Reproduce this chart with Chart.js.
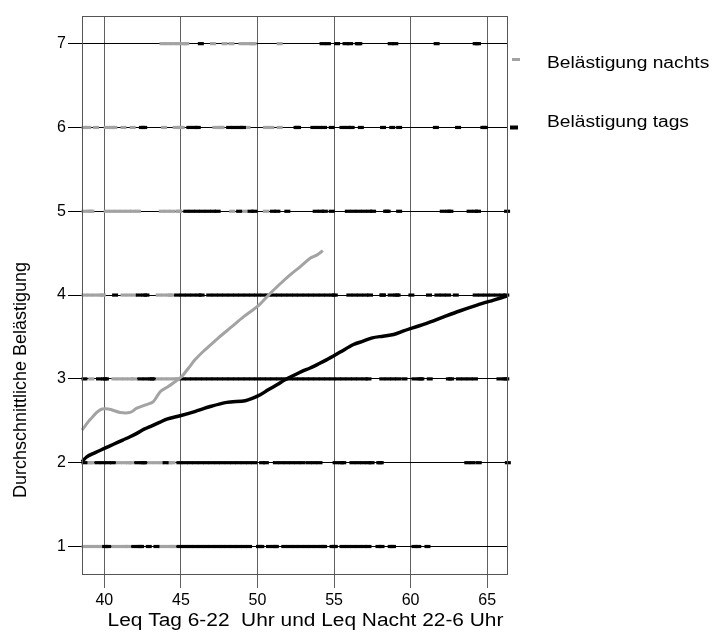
<!DOCTYPE html>
<html>
<head>
<meta charset="utf-8">
<script src="https://cdn.jsdelivr.net/npm/chart.js@4/dist/chart.umd.min.js"></script>
<style>
html,body{margin:0;padding:0;background:#fff;}
#wrap{position:relative;width:715px;height:633px;}
</style>
</head>
<body>
<div id="wrap"><canvas id="c" width="715" height="633"></canvas></div>
<script>
// ---- data ----
const xTicks = [40, 45, 50, 55, 60, 65];
const yTicks = [1, 2, 3, 4, 5, 6, 7];
const xTitle = "Leq Tag 6-22  Uhr und Leq Nacht 22-6 Uhr";
const yTitle = "Durchschnittliche Belästigung";
const seriesNames = ["Belästigung nachts", "Belästigung tags"];

// individual responses (x = Leq) per annoyance level, nachts (grey)
const nachts1 = [38.7,39.05,39.4,39.7,40.65,41.0,41.35,41.55,43.7,44.05,44.4,44.5];
const nachts2 = [39.05,39.15,40.95,41.3,41.6,41.75,43.0,43.35,43.7,44.25,44.45];
const nachts3 = [39.15,40.65,41.0,41.35,41.7,41.95,43.55,43.9,44.25,44.6,44.8];
const nachts4 = [38.7,39.05,39.4,39.75,39.9,41.25,41.6,41.95,43.55,43.9,44.25,44.35];
const nachts5 = [38.7,39.05,39.15,40.15,40.5,40.85,41.2,41.55,41.85,42.2,43.75,44.1,44.45,44.85,44.9,48.35,49.2,50.55];
const nachts6 = [38.7,38.95,39.45,40.15,40.5,40.65,41.25,41.85,43.9,44.65,44.95,45.05,47.25,47.6,47.65,49.35,50.55,50.9,51.45];
const nachts7 = [43.8,44.15,44.5,44.85,45.2,45.35,47.1,47.85,48.3,48.95,49.3,49.65,49.75,51.45];

// individual responses per annoyance level, tags (black)
const tags1 = [40.05,40.25,41.95,42.3,42.4,42.9,43.4,44.9,45.25,45.6,45.95,46.3,46.65,47.0,47.35,47.7,48.05,48.4,48.75,49.1,49.45,50.1,50.25,50.75,51.1,51.2,51.75,52.1,52.45,52.8,53.15,53.5,53.85,54.2,54.35,54.9,55.05,55.55,55.9,56.25,56.6,56.95,57.25,57.9,58.1,58.7,58.85,60.25,60.5,61.1];
const tags2 = [38.7,39.55,39.9,40.25,40.55,42.15,42.5,42.6,44.0,44.9,45.25,45.6,45.95,46.3,46.65,47.0,47.35,47.7,48.05,48.4,48.75,49.1,49.45,49.8,50.3,50.55,51.2,51.55,51.9,52.25,52.6,52.95,53.35,53.7,54.05,55.1,55.45,55.6,56.2,56.55,56.9,57.25,57.45,57.95,58.05,63.7,64.05,64.45,66.35];
const tags3 = [38.7,39.65,40.0,40.1,42.35,42.7,43.05,43.15,45.1,45.45,45.8,46.15,46.5,46.85,47.2,47.55,47.9,48.25,48.6,48.95,49.3,49.65,50.0,50.35,50.7,51.05,51.4,51.75,52.1,52.45,52.8,53.15,53.5,53.85,54.2,54.55,54.9,55.25,55.6,55.95,56.3,56.65,57.0,57.25,58.15,58.5,58.85,59.2,59.6,60.25,60.6,60.7,61.25,62.5,62.65,63.15,63.5,63.85,64.2,65.8,66.15,66.25];
const tags4 = [40.7,42.25,42.6,42.75,44.75,45.1,45.45,45.8,46.15,46.35,46.85,47.2,47.55,47.9,48.25,48.6,48.95,49.3,49.65,50.0,50.35,50.7,51.05,51.4,51.75,52.1,52.45,52.8,53.15,53.5,53.85,54.2,54.55,54.9,55.05,56.0,56.35,56.7,57.05,57.35,58.15,58.2,58.7,59.05,59.15,60.05,61.2,61.75,62.1,62.45,62.95,64.25,64.6,64.95,65.3,65.65,66.0,66.25];
const tags5 = [45.35,45.7,46.05,46.4,46.75,47.1,47.4,48.8,49.55,49.8,51.0,51.3,51.95,53.8,54.15,54.4,54.85,55.9,56.25,56.6,56.95,57.3,57.55,58.4,58.5,59.25,62.1,62.45,62.6,63.85,64.2,64.4,66.3];
const tags6 = [42.45,42.6,45.55,45.9,46.1,48.15,48.5,48.85,49.05,52.55,52.65,53.65,54.0,54.35,54.85,55.55,55.9,56.15,56.75,58.2,58.8,59.25,61.65,63.1,64.75,64.85];
const tags7 = [46.3,54.25,54.6,55.2,55.75,56.05,56.55,56.65,58.7,59.0,61.7,64.25,64.4];

// smoothed mean annoyance curves
const nachtsLineX = [38.54,39.1,39.72,40.26,41.03,41.68,42.12,42.7,43.2,43.66,44.1,44.5,45.06,45.5,45.93,46.47,46.9,47.45,48.3,49.08,49.6,50.1,50.72,51.4,52.13,52.8,53.44,53.9,54.27];
const nachtsLineY = [2.39,2.52,2.63,2.64,2.60,2.60,2.65,2.69,2.73,2.85,2.90,2.95,3.03,3.13,3.23,3.33,3.40,3.49,3.62,3.74,3.81,3.88,4.00,4.12,4.24,4.34,4.44,4.48,4.53];
const tagsLineX = [38.54,38.85,39.4,40.0,40.6,41.2,41.68,42.12,42.6,43.1,43.6,44.08,44.95,45.9,46.91,48.0,49.2,49.7,50.18,50.7,51.27,51.8,52.35,52.9,53.44,54.0,54.53,55.4,56.27,56.9,57.5,58.2,58.89,59.5,59.98,61.0,62.16,63.2,64.34,65.42,66.32];
const tagsLineY = [2.01,2.07,2.12,2.17,2.22,2.27,2.31,2.35,2.40,2.44,2.48,2.52,2.56,2.61,2.67,2.72,2.74,2.77,2.81,2.87,2.93,2.99,3.04,3.09,3.13,3.18,3.23,3.32,3.41,3.45,3.49,3.51,3.53,3.57,3.60,3.66,3.74,3.81,3.88,3.94,3.99];

// ---- build ----
const GREY = '#a3a3a3';
const BLACK = '#000000';
const FONT = '"Liberation Sans", Arial, sans-serif';

function levelPoints(lists) {
  const out = [];
  lists.forEach((arr, i) => arr.forEach(x => out.push({x: x, y: yTicks[i]})));
  return out;
}
function linePoints(xs, ys) { return xs.map((x, i) => ({x: x, y: ys[i]})); }

const nachtsPts = levelPoints([nachts1,nachts2,nachts3,nachts4,nachts5,nachts6,nachts7]);
const tagsPts = levelPoints([tags1,tags2,tags3,tags4,tags5,tags6,tags7]);

function wideText(ctx, text, x, y, sx) {
  ctx.save();
  ctx.translate(x, y);
  ctx.scale(sx, 1);
  ctx.fillText(text, 0, 0);
  ctx.restore();
}

const decor = {
  id: 'decor',
  afterDraw(chart) {
    const ctx = chart.ctx, a = chart.chartArea;
    ctx.save();
    ctx.strokeStyle = '#555';
    ctx.lineWidth = 1;
    ctx.strokeRect(a.left + 0.5, a.top + 0.5, a.right - a.left - 1, a.bottom - a.top - 1);
    ctx.fillStyle = '#000';
    ctx.font = '18px ' + FONT;
    ctx.textAlign = 'center';
    ctx.textBaseline = 'middle';
    wideText(ctx, xTitle, 305.5, 621, 1.16);
    ctx.save();
    ctx.translate(21, 380);
    ctx.rotate(-Math.PI / 2);
    ctx.fillText(yTitle, 0, 0);
    ctx.restore();
    // legend
    ctx.font = '16px ' + FONT;
    ctx.textAlign = 'left';
    ctx.textBaseline = 'alphabetic';
    ctx.lineCap = 'butt';
    ctx.lineWidth = 3;
    ctx.strokeStyle = GREY;
    ctx.beginPath(); ctx.moveTo(512, 59.5); ctx.lineTo(520, 59.5); ctx.stroke();
    wideText(ctx, seriesNames[0], 547, 68, 1.2);
    ctx.lineWidth = 4;
    ctx.strokeStyle = BLACK;
    ctx.beginPath(); ctx.moveTo(510, 127.5); ctx.lineTo(518, 127.5); ctx.stroke();
    wideText(ctx, seriesNames[1], 547, 127, 1.2);
    ctx.restore();
  }
};

new Chart(document.getElementById('c'), {
  type: 'scatter',
  data: {
    datasets: [
      { label: seriesNames[0] + ' Kurve', data: linePoints(nachtsLineX, nachtsLineY), showLine: true,
        borderColor: GREY, borderWidth: 3, pointRadius: 0, tension: 0.3, order: 0, clip: false },
      { label: seriesNames[1] + ' Kurve', data: linePoints(tagsLineX, tagsLineY), showLine: true,
        borderColor: BLACK, borderWidth: 3.5, pointRadius: 0, tension: 0.3, order: 0, clip: false },
      { label: seriesNames[1], data: tagsPts, showLine: false, pointStyle: 'line', pointRadius: 3,
        pointBorderWidth: 3.2, pointBorderColor: BLACK, borderColor: BLACK, backgroundColor: BLACK, order: 1, clip: false },
      { label: seriesNames[0], data: nachtsPts, showLine: false, pointStyle: 'line', pointRadius: 3,
        pointBorderWidth: 3.2, pointBorderColor: GREY, borderColor: GREY, backgroundColor: GREY, order: 2, clip: false }
    ]
  },
  options: {
    responsive: false,
    animation: false,
    devicePixelRatio: 1,
    layout: { padding: { left: 0, top: 16, right: 207, bottom: 0 } },
    plugins: { legend: { display: false }, tooltip: { enabled: false } },
    scales: {
      x: {
        type: 'linear', min: 38.54, max: 66.36,
        afterBuildTicks: s => { s.ticks = xTicks.map(v => ({value: v})); },
        afterFit: s => { s.height = 58; },
        grid: { color: '#606060', lineWidth: 1, tickLength: 13, tickColor: '#606060', drawTicks: true },
        border: { display: false },
        ticks: { color: '#000', font: { family: FONT, size: 16 }, padding: 3, maxRotation: 0 }
      },
      y: {
        type: 'linear', min: 0.66, max: 7.33,
        afterBuildTicks: s => { s.ticks = yTicks.map(v => ({value: v})); },
        afterFit: s => { s.width = 82; },
        grid: { color: '#000', lineWidth: 1, tickLength: 14, tickColor: '#000', drawTicks: true },
        border: { display: false },
        ticks: { color: '#000', font: { family: FONT, size: 16 }, padding: 2 }
      }
    }
  },
  plugins: [decor]
});
</script>
</body>
</html>
